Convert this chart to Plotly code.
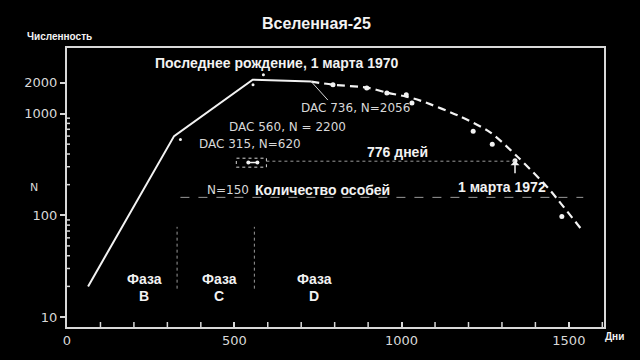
import numpy as np
import plotly.graph_objects as go

# ---- data ----
solid_days = [63, 320, 555, 730]
solid_n = [20, 600, 2150, 2060]

dashed_days = [730, 796, 897, 957, 1014, 1056, 1175, 1265, 1348, 1435, 1465, 1543]
dashed_n = [2060, 1918, 1795, 1602, 1466, 1340, 935, 653, 372, 190, 145, 69]

dot_days = [795, 896, 956, 1014, 1031, 1214, 1271, 1339, 1479]
dot_n = [1918, 1780, 1592, 1530, 1270, 671, 499, 343, 97]

small_days = [587, 556, 339]
small_n = [2400, 1918, 557]

box_days = [506, 596]
box_n = [297, 364]
box_pts_days = [542, 569]
box_pts_n = [330, 330]

line776_days = [596, 1339]
line776_n = 340
line150_days = [339, 1543]
line150_n = 150

phase_bounds = [329, 560]
phase_n = [19, 77]

x_major = [0, 500, 1000, 1500]
x_minor = [v for v in range(100, 1601, 100) if v not in x_major]
y_major = [10, 100, 1000, 2000]
y_labels = ["10", "100", "1000", "2000"]
y_minor = [20, 30, 40, 50, 60, 70, 80, 90, 200, 300, 400, 500, 600, 700, 800, 900]

# ---- layout helpers ----
L, R, T, B = 67, 36, 48, 31
W, H = 640, 360
PW, PH = W - L - R, H - T - B


def px(x):
    return (x - L) / PW


def py(y):
    return (H - B - y) / PH


WHITE = "#f2f2f2"
GREY = "#d8d8d8"
FAINT = "#9a9a9a"
BOLD = "Liberation Sans, Arial, sans-serif"
SCAN = "DejaVu Sans, sans-serif"

fig = go.Figure()
fig.add_trace(go.Scatter(x=solid_days, y=solid_n, mode="lines",
                         line=dict(color=WHITE, width=2), hoverinfo="skip"))
fig.add_trace(go.Scatter(x=dashed_days, y=dashed_n, mode="lines",
                         line=dict(color=WHITE, width=2.2, dash="8px,5px",
                                   shape="spline", smoothing=0.8),
                         hoverinfo="skip"))
fig.add_trace(go.Scatter(x=dot_days, y=dot_n, mode="markers",
                         marker=dict(color=WHITE, size=5), hoverinfo="skip"))
fig.add_trace(go.Scatter(x=small_days, y=small_n, mode="markers",
                         marker=dict(color=WHITE, size=3), hoverinfo="skip"))
fig.add_trace(go.Scatter(x=box_pts_days, y=box_pts_n, mode="lines+markers",
                         line=dict(color=WHITE, width=1.5),
                         marker=dict(color=WHITE, size=4), hoverinfo="skip"))

shapes = [
    dict(type="rect", xref="x", yref="y", x0=box_days[0], x1=box_days[1],
         y0=box_n[0], y1=box_n[1], line=dict(color=GREY, width=1, dash="dot")),
    dict(type="line", xref="x", yref="y", x0=line776_days[0], x1=line776_days[1],
         y0=line776_n, y1=line776_n, line=dict(color=FAINT, width=1, dash="dot")),
    dict(type="line", xref="x", yref="y", x0=line150_days[0], x1=line150_days[1],
         y0=line150_n, y1=line150_n, line=dict(color=FAINT, width=1, dash="dash")),
]
for d in phase_bounds:
    shapes.append(dict(type="line", xref="x", yref="y", x0=d, x1=d,
                       y0=phase_n[0], y1=phase_n[1],
                       line=dict(color=FAINT, width=1, dash="dot")))

# minor tick marks (drawn on the axes via data positions, pixel lengths)
for v in x_minor:
    shapes.append(dict(type="line", xref="x", yref="paper", x0=v, x1=v,
                       ysizemode="pixel", yanchor=0, y0=0, y1=5,
                       line=dict(color=GREY, width=1.5)))
for v in y_minor:
    shapes.append(dict(type="line", yref="y", xref="paper", y0=v, y1=v,
                       xsizemode="pixel", xanchor=0, x0=0, x1=3,
                       line=dict(color=GREY, width=1.5)))

ann = []


def text(x, y, s, size=14, color=WHITE, font=BOLD, bold=True):
    ann.append(dict(x=px(x), y=py(y), xref="paper", yref="paper",
                    text=("<b>%s</b>" % s) if bold else s, showarrow=False,
                    xanchor="center", yanchor="middle",
                    font=dict(family=font, size=size, color=color)))


text(316, 23, "Вселенная-25", size=16)
text(59, 36, "Численность", size=10)
text(277, 63, "Последнее рождение, 1 марта 1970", size=14)
text(355, 108, "DAC 736, N=2056", size=12, color=GREY, font=SCAN, bold=False)
text(287, 128, "DAC 560, N = 2200", size=12, color=GREY, font=SCAN, bold=False)
text(250, 145, "DAC 315, N=620", size=12, color=GREY, font=SCAN, bold=False)
text(397, 153, "776 дней", size=14)
text(228, 191, "N=150", size=12, color=GREY, font=SCAN, bold=False)
text(322, 191, "Количество особей", size=14)
text(502, 188, "1 марта 1972", size=14)
for cx, letter in [(144, "B"), (219, "C"), (314, "D")]:
    text(cx, 281, "Фаза", size=14)
    text(cx, 298, letter, size=14)
text(34, 189, "N", size=11, color=GREY, font=SCAN, bold=False)
text(614, 339, "Дни", size=10)

# pointer lines
ann.append(dict(x=730, y=np.log10(2060), xref="x", yref="y", text="",
                showarrow=True, arrowhead=0, arrowwidth=1, arrowcolor=GREY,
                ax=18, ay=20))
ann.append(dict(x=1339, y=np.log10(343), xref="x", yref="y", text="",
                showarrow=True, arrowhead=1, arrowsize=1, arrowwidth=1.5,
                arrowcolor=WHITE, ax=0, ay=14))

fig.update_layout(
    width=W, height=H, margin=dict(l=L, r=R, t=T, b=B),
    paper_bgcolor="black", plot_bgcolor="black", showlegend=False,
    shapes=shapes, annotations=ann,
    xaxis=dict(range=[0, 1605], showgrid=False, zeroline=False,
               showline=True, mirror=True, linecolor=GREY, linewidth=2,
               tickmode="array", tickvals=x_major, ticks="inside", ticklen=5,
               tickwidth=2, tickcolor=GREY,
               tickfont=dict(family=SCAN, size=13, color=GREY)),
    yaxis=dict(type="log", range=[0.902, 3.644], showgrid=False, zeroline=False,
               showline=True, mirror=True, linecolor=GREY, linewidth=2,
               tickmode="array", tickvals=y_major, ticktext=y_labels,
               ticks="outside", ticklen=5, tickwidth=2, tickcolor=GREY,
               tickfont=dict(family=SCAN, size=13, color=GREY)),
)

fig.write_html("out.html")
